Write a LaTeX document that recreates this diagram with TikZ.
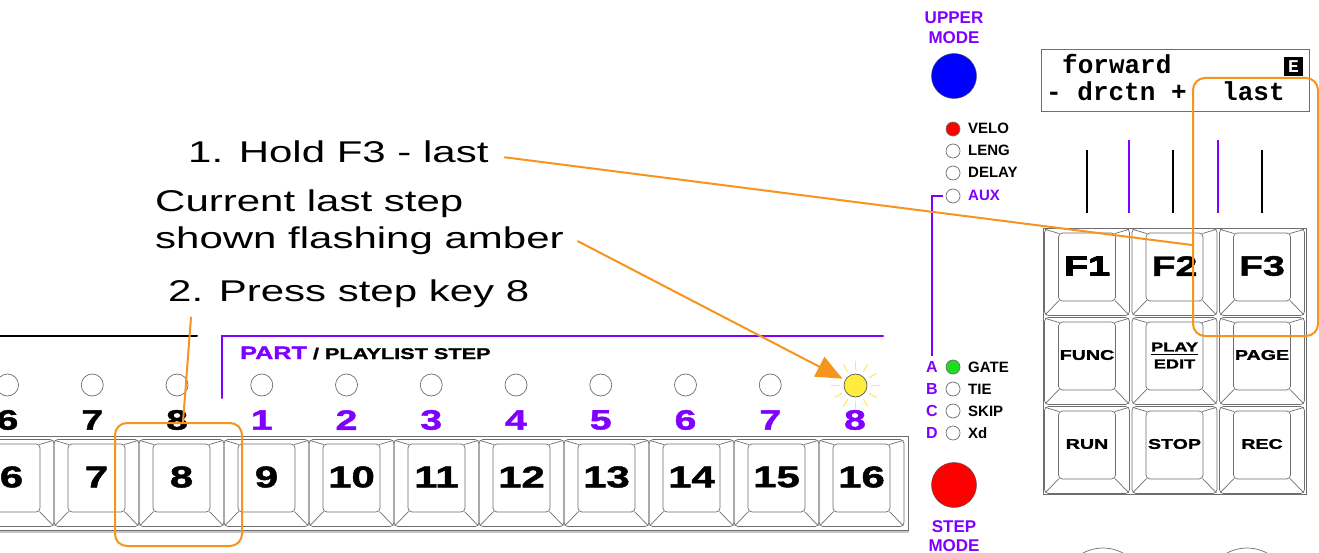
\documentclass[tikz,border=0pt]{standalone}
\usepackage{fontspec}
\setmainfont{Liberation Sans}
\newfontfamily\widefont[FakeStretch=1.4]{Liberation Sans}
\newfontfamily\wideblack[FakeStretch=1.4,FakeBold=1.6]{Liberation Sans Bold}
\newfontfamily\lcdfont{Liberation Mono}
\usetikzlibrary{arrows.meta}
\definecolor{partpurple}{RGB}{128,0,255}
\definecolor{callorange}{RGB}{247,148,29}
\definecolor{ledamber}{RGB}{255,236,60}
\definecolor{rayamber}{RGB}{255,232,100}
\definecolor{keygray}{RGB}{110,110,110}
\definecolor{ledgreen}{RGB}{30,220,30}

% one key cap: outer shell, top face and the corner bevels
\newcommand\keycap[2]{%
  \draw[keyline,rounded corners=4pt] (#1-42.5,#2-43.5) rectangle (#1+42.5,#2+43.5);
  \draw[keyline,rounded corners=4pt] (#1-28.5,#2-39) rectangle (#1+28.5,#2+29);
  \draw[keyline] (#1-41.5,#2-42.5) -- (#1-28,#2-38.5) (#1+41.5,#2-42.5) -- (#1+28,#2-38.5)
    (#1-41.5,#2+42.5) -- (#1-28,#2+28.5) (#1+41.5,#2+42.5) -- (#1+28,#2+28.5);}

\begin{document}
\begin{tikzpicture}[x=1pt,y=-1pt,line cap=round,
  keyline/.style={draw=keygray,line width=0.7pt},
  capnum/.style={font=\wideblack\fontsize{30}{30}\selectfont,inner sep=0pt},
  stepnum/.style={font=\wideblack\fontsize{28}{28}\selectfont,inner sep=0pt},
  fsmall/.style={font=\wideblack\fontsize{14}{14}\selectfont,inner sep=0pt},
  led/.style={circle,draw=keygray,fill=white,line width=0.7pt,minimum size=22pt,inner sep=0pt},
  sled/.style={circle,draw=keygray,fill=white,line width=0.7pt,minimum size=14pt,inner sep=0pt},
  sidelbl/.style={font=\bfseries\fontsize{15}{15}\selectfont,inner sep=0pt,anchor=base west},
  abcd/.style={font=\bfseries\fontsize{16}{16}\selectfont,text=partpurple,inner sep=0pt},
  modelbl/.style={font=\bfseries\fontsize{17}{20}\selectfont,text=partpurple,align=center,inner sep=0pt},
  calltext/.style={font=\widefont\fontsize{30}{30}\selectfont,inner sep=0pt,anchor=base west},
  orangeline/.style={draw=callorange,line width=2pt},
  obox/.style={draw=callorange,line width=2pt,rounded corners=12pt,inner sep=0pt},
  lcdtext/.style={font=\lcdfont\bfseries\fontsize{26}{26}\selectfont,inner sep=0pt,anchor=base west}]
\useasboundingbox (0,0) rectangle (1319,553);
\clip (0,0) rectangle (1319,553);
\fill[white] (0,0) rectangle (1319,553);

% step keys
\draw[keyline] (-5,436) rectangle (908,530);
\draw[gray!45,line width=2pt] (-5,531.5) -- (908,531.5);
\foreach \i in {6,...,16} {
  \pgfmathsetmacro\cx{181.5+(\i-8)*85}
  \keycap{\cx}{483}
  \node[capnum] (key\i) at (\cx,477) {\i};
}
\foreach \i in {6,...,15} {
  \pgfmathsetmacro\lx{177+(\i-8)*84.75}
  \node[led] (led\i) at (\lx,385) {};
}
\foreach \i in {6,7,8} {
  \pgfmathsetmacro\lx{177+(\i-8)*84.75}
  \node[stepnum] (num\i) at (\lx,420) {\i};
}
\foreach \i [evaluate=\i as \n using int(\i-8)] in {9,...,16} {
  \pgfmathsetmacro\lx{177+(\i-8)*84.75}
  \node[stepnum,text=partpurple] (num\i) at (\lx,420) {\n};
}
\node[led,fill=ledamber,draw=keygray!80!black,minimum size=23pt] (amber) at (855.5,385.5) {};
\foreach \a in {0,30,...,330}
  \draw[rayamber,line width=1.1pt] (amber.center) ++(\a:16) -- ++(\a:8);

% part / playlist header
\draw[line width=2pt] (0,336) -- (197,336);
\draw[partpurple,line width=2pt] (222,398) -- (222,336) -- (883,336);
\node[inner sep=0pt,anchor=base west,font=\wideblack] (part) at (240,359)
  {\fontsize{18}{18}\selectfont\textcolor{partpurple}{PART}\fontsize{15.5}{15.5}\selectfont\ / PLAYLIST STEP};

% mode buttons and leds
\node[modelbl] (upper) at (954,28) {UPPER\\MODE};
\node[circle,fill=blue,draw=black!70,minimum size=45pt,inner sep=0pt] (upbtn) at (954,76) {};
\node[sled,fill=red] (veloled) at (953,129) {};
\node[sled] (lengled) at (953,151) {};
\node[sled] (delayled) at (953,173) {};
\node[sled] (auxled) at (953,196) {};
\node[sidelbl] (velo) at (968,134) {VELO};
\node[sidelbl] (leng) at (968,156) {LENG};
\node[sidelbl] (delay) at (968,178) {DELAY};
\node[sidelbl,text=partpurple] (aux) at (968,201) {AUX};
\node[abcd] (ltrA) at (932,367) {A};
\node[abcd] (ltrB) at (932,389) {B};
\node[abcd] (ltrC) at (932,411) {C};
\node[abcd] (ltrD) at (932,433) {D};
\draw[partpurple,line width=1.6pt,line cap=butt,shorten >=5pt] ([xshift=-3pt]auxled.west) -| (ltrA.north);
\node[sled,fill=ledgreen] (gateled) at (953,367) {};
\node[sled] (tieled) at (953,389) {};
\node[sled] (skipled) at (953,411) {};
\node[sled] (xdled) at (953,433) {};
\node[sidelbl] (gate) at (968,372) {GATE};
\node[sidelbl] (tie) at (968,394) {TIE};
\node[sidelbl] (skip) at (968,416) {SKIP};
\node[sidelbl] (xd) at (968,438) {Xd};
\node[circle,fill=red,draw=black!70,minimum size=45pt,inner sep=0pt] (stepbtn) at (954,485) {};
\node[modelbl,font=\bfseries\fontsize{17}{19}\selectfont] (stepmode) at (954,536.5) {STEP\\MODE};
\draw[keyline] (1103,590) circle (42pt);
\draw[keyline] (1247,590) circle (42pt);

% display
\node[draw=keygray,line width=0.8pt,minimum width=268pt,minimum height=62pt,inner sep=0pt,anchor=north west] (lcd) at (1041,49) {};
\node[lcdtext] (lcdtop) at (1062,74) {forward};
\node[lcdtext] (lcdleft) at (1046,101) {- drctn +};
\node[lcdtext] (lcdlast) at (1222,101) {last};
\node[fill=black,minimum width=19pt,minimum height=19pt,inner sep=0pt,text=white,
  font=\lcdfont\bfseries\fontsize{18}{18}\selectfont] (ebox) at (1293.5,66.5) {E};
\foreach \x/\c/\t in {1087/black/150,1129/partpurple/140,1173/black/150,1218/partpurple/140,1262/black/150}
  \draw[\c,line width=2.5pt,line cap=butt] (\x,\t) -- (\x,213);

% function keys
\draw[keyline] (1043,228) rectangle (1306,494);
\foreach \x in {1087,1174.5,1262}
  \foreach \y in {272,361,450}
    \keycap{\x}{\y}
\node[stepnum] (fone) at (1087,266) {F1};
\node[stepnum] (ftwo) at (1174.5,266) {F2};
\node[stepnum] (fthree) at (1262,266) {F3};
\node[fsmall] (func) at (1087,355) {FUNC};
\node[fsmall,font=\wideblack\fontsize{13}{13}\selectfont] (play) at (1174.5,347) {PLAY};
\node[fsmall,font=\wideblack\fontsize{13}{13}\selectfont] (edit) at (1174.5,364) {EDIT};
\draw[line width=1pt,line cap=butt] ([yshift=-3pt]play.south west) -- ([yshift=-3pt]play.south east);
\node[fsmall] (page) at (1262,355) {PAGE};
\node[fsmall] (run) at (1087,444) {RUN};
\node[fsmall] (stop) at (1174.5,444) {STOP};
\node[fsmall] (rec) at (1262,444) {REC};

% callouts
\node[obox,minimum width=125pt,minimum height=258pt] (lastbox) at (1255.5,207) {};
\node[obox,minimum width=127pt,minimum height=123pt] (box8) at (178.5,484.5) {};
\node[calltext] (hold) at (188,163) {1. Hold F3 - last};
\node[calltext] (curone) at (155,212) {Current last step};
\node[calltext] (curtwo) at (155,249) {shown flashing amber};
\node[calltext] (press) at (168,301) {2. Press step key 8};
\draw[orangeline] ([shift={(16pt,-5pt)}]hold.east) -- ([yshift=-38pt]lastbox.west);
\draw[orangeline,-{Triangle[length=26pt,width=22pt]},shorten >=3pt] ([xshift=14pt]curtwo.east) -- (amber);
\draw[orangeline] ([shift={(23pt,-10pt)}]press.south west) -- ([xshift=4.5pt]box8.north);
\end{tikzpicture}
\end{document}
